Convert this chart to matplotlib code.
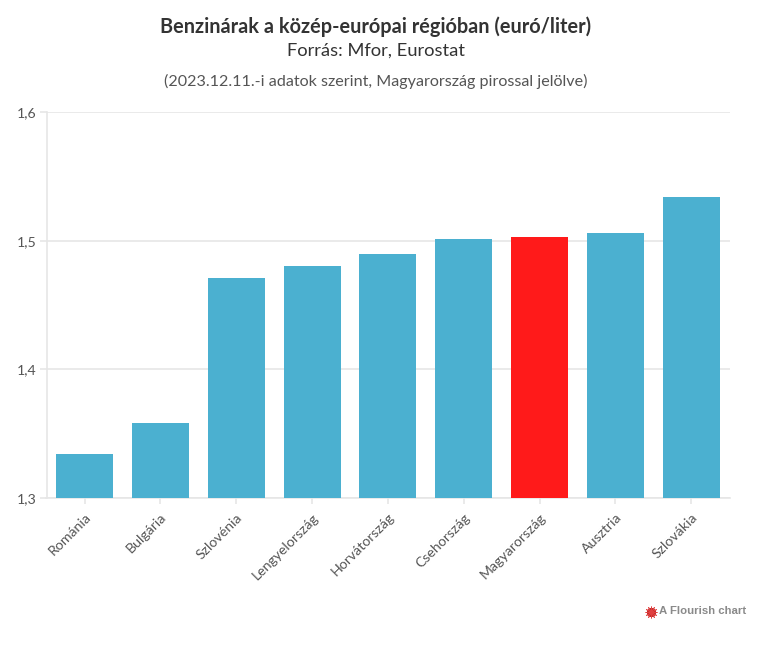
import matplotlib
matplotlib.use("Agg")
import matplotlib.pyplot as plt
from matplotlib.lines import Line2D

countries = ["Románia", "Bulgária", "Szlovénia", "Lengyelország", "Horvátország",
             "Csehország", "Magyarország", "Ausztria", "Szlovákia"]
prices = [1.334, 1.358, 1.471, 1.480, 1.490, 1.501, 1.503, 1.506, 1.534]
y_ticks = [1.3, 1.4, 1.5, 1.6]
y_labels = ["1,3", "1,4", "1,5", "1,6"]
highlight = "Magyarország"

W, H = 768, 647
BLUE = "#4bb0d0"
RED = "#ff1a1a"
GRID = "#e6e6e6"
TEXT = "#333333"
TICK = "#555555"

plt.rcParams["font.family"] = ["Lato", "DejaVu Sans"]

fig = plt.figure(figsize=(W / 100, H / 100), dpi=100)
ax = fig.add_axes([46.5 / W, 1 - 498 / H, (729.5 - 46.5) / W, (498 - 112) / H])

colors = [RED if c == highlight else BLUE for c in countries]
ax.bar(range(len(countries)), prices, width=0.752, color=colors, zorder=3)

ax.set_xlim(-0.503, 8.505)
ax.set_ylim(1.3, 1.6)
ax.set_yticks(y_ticks)
ax.set_yticklabels(y_labels, fontsize=10.2, color=TICK)
ax.set_xticks(range(len(countries)))
ax.set_xticklabels(countries, fontsize=10.2, color=TICK, rotation=45,
                   ha="right", va="top", rotation_mode="anchor")
ax.tick_params(axis="y", length=5, color=GRID, width=1.2, pad=2)
ax.tick_params(axis="x", length=4.3, color=GRID, width=1.2, pad=5.2)
ax.grid(axis="y", color=GRID, linewidth=1.2, zorder=0)
ax.set_axisbelow(True)
for side in ["top", "right"]:
    ax.spines[side].set_visible(False)
for side in ["left", "bottom"]:
    ax.spines[side].set_color(GRID)
    ax.spines[side].set_linewidth(1.2)

fig.text(376 / W, 1 - 27 / H, "Benzinárak a közép-európai régióban (euró/liter)",
         ha="center", va="center", fontsize=14.3, fontweight="bold", color=TEXT)
fig.text(376 / W, 1 - 51 / H, "Forrás: Mfor, Eurostat",
         ha="center", va="center", fontsize=13.2, color=TEXT)
fig.text(376 / W, 1 - 81 / H, "(2023.12.11.-i adatok szerint, Magyarország pirossal jelölve)",
         ha="center", va="center", fontsize=11.65, color=TICK)

# flourish badge
fig.add_artist(Line2D([650.5 / W], [1 - 612 / H], transform=fig.transFigure, marker="o",
                      markersize=5.5, color="#b81c1c", linestyle="none"))
fig.add_artist(Line2D([650.5 / W], [1 - 612 / H], transform=fig.transFigure, marker=(12, 2, 0),
                      markersize=8.5, color="#e04040", markeredgewidth=0.6, linestyle="none"))
fig.text(659 / W, 1 - 611.5 / H, "A Flourish chart", ha="left", va="center", fontsize=8.2,
         fontweight="bold", color="#8a8a8a", family="Liberation Sans")

fig.savefig("out.png", dpi=100)
